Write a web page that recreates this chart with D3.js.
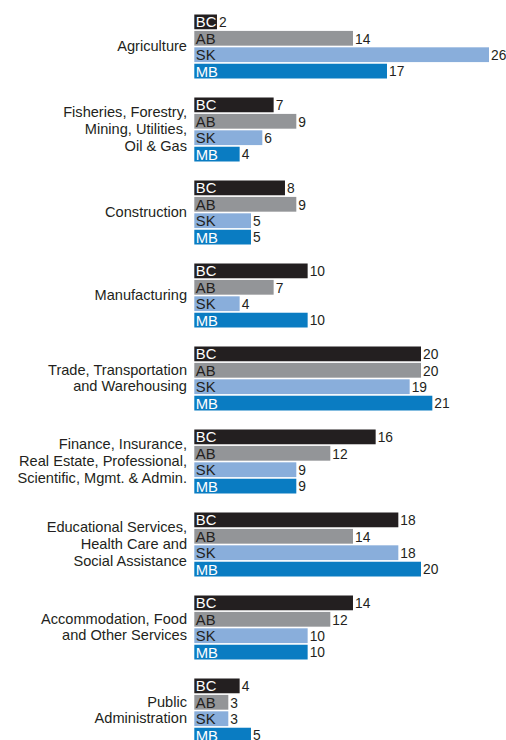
<!DOCTYPE html>
<html>
<head>
<meta charset="utf-8">
<script src="https://cdn.jsdelivr.net/npm/d3@7/dist/d3.min.js"></script>
<style>
  html, body { margin: 0; padding: 0; background: #fff; }
  svg { display: block; font-family: "Liberation Sans", Arial, Helvetica, sans-serif; }
</style>
</head>
<body>
<svg id="chart" width="506" height="740"></svg>
<script>
// Industry groups (label lines) and provincial series
const categories = [
  ["Agriculture"],
  ["Fisheries, Forestry,", "Mining, Utilities,", "Oil & Gas"],
  ["Construction"],
  ["Manufacturing"],
  ["Trade, Transportation", "and Warehousing"],
  ["Finance, Insurance,", "Real Estate, Professional,", "Scientific, Mgmt. & Admin."],
  ["Educational Services,", "Health Care and", "Social Assistance"],
  ["Accommodation, Food", "and Other Services"],
  ["Public", "Administration"]
];
const seriesNames = ["BC", "AB", "SK", "MB"];
const bcValues = [2, 7, 8, 10, 20, 16, 18, 14, 4];
const abValues = [14, 9, 9, 7, 20, 12, 14, 12, 3];
const skValues = [26, 6, 5, 4, 19, 9, 18, 10, 3];
const mbValues = [17, 4, 5, 10, 21, 9, 20, 10, 5];

const seriesValues = [bcValues, abValues, skValues, mbValues];
const fillColors = ["#231f20", "#939598", "#89aedb", "#0a7cc2"];
const tagColors = ["#ffffff", "#231f20", "#231f20", "#ffffff"];

const svg = d3.select("#chart");
const keys = categories.map((c, i) => i);

const y0 = d3.scaleBand().domain(keys).range([14.5, 14.5 + 83 * keys.length]).padding(0);
const y1 = d3.scaleBand().domain(seriesNames).range([0, 64]).paddingInner(0.1).paddingOuter(0);
const x = d3.scaleLinear().domain([0, 26]).range([194.3, 489]);

const rows = keys.map(i => ({
  i,
  lines: categories[i],
  bars: seriesNames.map((s, k) => ({ s, k, v: seriesValues[k][i] }))
}));

const g = svg.selectAll("g.group").data(rows).join("g")
  .attr("class", "group")
  .attr("transform", d => `translate(0,${y0(d.i)})`);

// category labels, right-aligned and centred on the group
const lineH = 16.7;
g.append("text")
  .attr("text-anchor", "end")
  .attr("font-size", 14.6)
  .attr("fill", "#231f20")
  .each(function (d) {
    const t = d3.select(this);
    const n = d.lines.length;
    const mid = 32;
    d.lines.forEach((ln, j) => {
      t.append("tspan")
        .attr("x", 187)
        .attr("y", mid + (j - (n - 1) / 2) * lineH + 4.5)
        .text(ln);
    });
  });

const bar = g.selectAll("g.bar").data(d => d.bars).join("g")
  .attr("class", "bar")
  .attr("transform", d => `translate(0,${y1(d.s)})`);

bar.append("rect")
  .attr("x", x(0))
  .attr("y", 0)
  .attr("width", d => x(d.v) - x(0))
  .attr("height", y1.bandwidth())
  .attr("fill", d => fillColors[d.k]);

bar.append("text")
  .attr("x", x(0) + 1.5)
  .attr("y", y1.bandwidth() - 2)
  .attr("font-size", 14.8)
  .attr("fill", d => tagColors[d.k])
  .text(d => d.s);

bar.append("text")
  .attr("x", d => x(d.v) + 2)
  .attr("y", y1.bandwidth() - 2)
  .attr("font-size", 13.8)
  .attr("fill", "#231f20")
  .text(d => d.v);
</script>
</body>
</html>
